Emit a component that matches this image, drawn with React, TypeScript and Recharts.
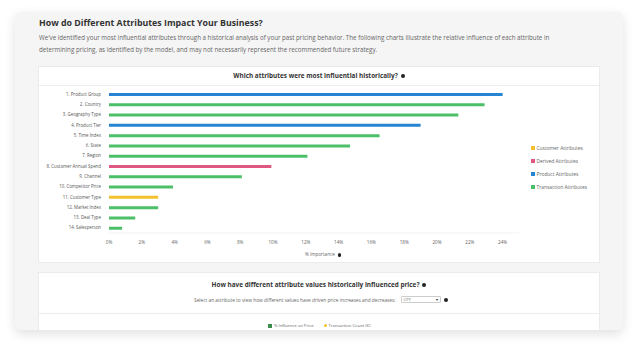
import React from "react"
import { BarChart, Bar, XAxis, YAxis, Cell } from "recharts"

const attributes = [
  "1. Product Group",
  "2. Country",
  "3. Geography Type",
  "4. Product Tier",
  "5. Time Index",
  "6. State",
  "7. Region",
  "8. Customer Annual Spend",
  "9. Channel",
  "10. Competitor Price",
  "11. Customer Type",
  "12. Market Index",
  "13. Deal Type",
  "14. Salesperson",
]
const importance = [24.0, 22.9, 21.3, 19.0, 16.5, 14.7, 12.1, 9.9, 8.1, 3.9, 3.0, 3.0, 1.6, 0.8]
const attributeGroup = [
  "Product Attributes",
  "Transaction Attributes",
  "Transaction Attributes",
  "Product Attributes",
  "Transaction Attributes",
  "Transaction Attributes",
  "Transaction Attributes",
  "Derived Attributes",
  "Transaction Attributes",
  "Transaction Attributes",
  "Customer Attributes",
  "Transaction Attributes",
  "Transaction Attributes",
  "Transaction Attributes",
]
const groups = ["Customer Attributes", "Derived Attributes", "Product Attributes", "Transaction Attributes"]
const groupColors = ["#f4c02f", "#e0577f", "#2585d3", "#4cbf69"]
const xTicks = [0, 2, 4, 6, 8, 10, 12, 14, 16, 18, 20, 22, 24]

const data = attributes.map((name, i) => ({ name, value: importance[i], group: attributeGroup[i] }))

function colorOf(group: string) {
  return groupColors[groups.indexOf(group)]
}

function CategoryTick({ x, y, payload }: { x?: number; y?: number; payload?: { value: string } }) {
  return (
    <text x={x} y={y} dy={1.6} textAnchor="end" fontSize={4.4} fill="#555">
      {payload?.value}
    </text>
  )
}

function InfoDot({ size = 5 }: { size?: number }) {
  return (
    <span
      style={{
        display: "inline-block",
        width: size,
        height: size,
        borderRadius: "50%",
        background: "#222",
        marginLeft: 3,
        verticalAlign: "middle",
      }}
    />
  )
}

export default function App() {
  return (
    <div
      style={{
        position: "fixed",
        left: 0,
        top: 0,
        width: 640,
        height: 352,
        background: "#fff",
        overflow: "hidden",
        fontFamily: '"Open Sans", sans-serif',
      }}
    >
      <div
        style={{
          position: "absolute",
          left: 15,
          top: 12,
          width: 608,
          height: 318,
          background: "#f5f5f5",
          borderRadius: 6,
          boxShadow: "0 4px 12px rgba(0,0,0,0.12)",
          overflow: "hidden",
        }}
      >
        <div style={{ position: "absolute", left: 24, top: 5, fontSize: 8.8, fontWeight: 700, color: "#333", whiteSpace: "nowrap" }}>
          How do Different Attributes Impact Your Business?
        </div>
        <div style={{ position: "absolute", left: 24, top: 19.5, width: 540, fontSize: 6.2, lineHeight: "12.7px", color: "#666" }}>
          We've identified your most influential attributes through a historical analysis of your past pricing behavior. The following charts illustrate the relative influence of each attribute in determining pricing, as identified by the model, and may not necessarily represent the recommended future strategy.
        </div>

        {/* first card */}
        <div
          style={{
            position: "absolute",
            left: 23,
            top: 54,
            width: 562,
            height: 197,
            background: "#fff",
            border: "1px solid #ebebeb",
            boxSizing: "border-box",
          }}
        >
          <div style={{ position: "absolute", left: 0, top: 0, width: "100%", height: 18, borderBottom: "1px solid #ececec", textAlign: "center", fontSize: 6.4, fontWeight: 700, color: "#333", lineHeight: "18px" }}>
            Which attributes were most influential historically?
            <InfoDot size={4} />
          </div>
          <div style={{ position: "absolute", left: 0, top: 18 }}>
            <BarChart
              width={562}
              height={179}
              data={data}
              layout="vertical"
              margin={{ top: 4, right: 82, bottom: 11, left: 0 }}
            >
              <XAxis
                type="number"
                domain={[0, 25]}
                ticks={xTicks}
                tickFormatter={(v: number) => `${v}%`}
                tick={{ fill: "#666", fontSize: 4.6 }}
                tickLine={false}
                axisLine={{ stroke: "#f2f2f2" }}
                height={20}
                interval={0}
              />
              <YAxis
                type="category"
                dataKey="name"
                width={70}
                tick={<CategoryTick />}
                tickLine={false}
                axisLine={false}
                interval={0}
              />
              <Bar dataKey="value" barSize={3} isAnimationActive={false}>
                {data.map((d, i) => (
                  <Cell key={i} fill={colorOf(d.group)} />
                ))}
              </Bar>
            </BarChart>
          </div>
          <div style={{ position: "absolute", left: 266, top: 184, fontSize: 4.6, color: "#666", whiteSpace: "nowrap", lineHeight: "6px" }}>
            % Importance
            <InfoDot size={3.5} />
          </div>
          <div style={{ position: "absolute", left: 492, top: 74 }}>
            {groups.map((g, i) => (
              <div key={g} style={{ display: "flex", alignItems: "center", height: 13.2, fontSize: 4.9, color: "#666", whiteSpace: "nowrap" }}>
                <span style={{ width: 4, height: 4, background: groupColors[i], marginRight: 1.5, display: "inline-block" }} />
                {g}
              </div>
            ))}
          </div>
        </div>

        {/* second card */}
        <div
          style={{
            position: "absolute",
            left: 23,
            top: 260,
            width: 562,
            height: 80,
            background: "#fff",
            border: "1px solid #ebebeb",
            boxSizing: "border-box",
          }}
        >
          <div style={{ position: "absolute", left: 0, top: 7, width: "100%", textAlign: "center", fontSize: 6.4, fontWeight: 700, color: "#333", whiteSpace: "nowrap" }}>
            How have different attribute values historically influenced price?
            <InfoDot size={4} />
          </div>
          <div style={{ position: "absolute", left: 155, top: 23, fontSize: 4.8, color: "#666", whiteSpace: "nowrap", display: "flex", alignItems: "center" }}>
            Select an attribute to view how different values have driven price increases and decreases:
            <span style={{ display: "inline-flex", justifyContent: "space-between", alignItems: "center", marginLeft: 5, width: 40, height: 7, border: "1px solid #ccc", borderRadius: 1, fontSize: 3.6, padding: "0 2px", boxSizing: "border-box" }}>
              <span>CITY</span>
              <span style={{ color: "#333" }}>▾</span>
            </span>
            <InfoDot size={4} />
          </div>
          <div style={{ position: "absolute", left: 0, top: 40, width: "100%", borderTop: "1px solid #ececec" }} />
          <div style={{ position: "absolute", left: 229, top: 50, fontSize: 4.2, color: "#666", whiteSpace: "nowrap", display: "flex", alignItems: "center" }}>
            <span style={{ width: 4, height: 4, background: "#3d8b4c", marginRight: 2, display: "inline-block" }} />
            % Influence on Price
            <span style={{ width: 3, height: 3, borderRadius: "50%", background: "#f4c02f", margin: "0 2px 0 10px", display: "inline-block" }} />
            Transaction Count (K)
          </div>
        </div>
      </div>
    </div>
  )
}
